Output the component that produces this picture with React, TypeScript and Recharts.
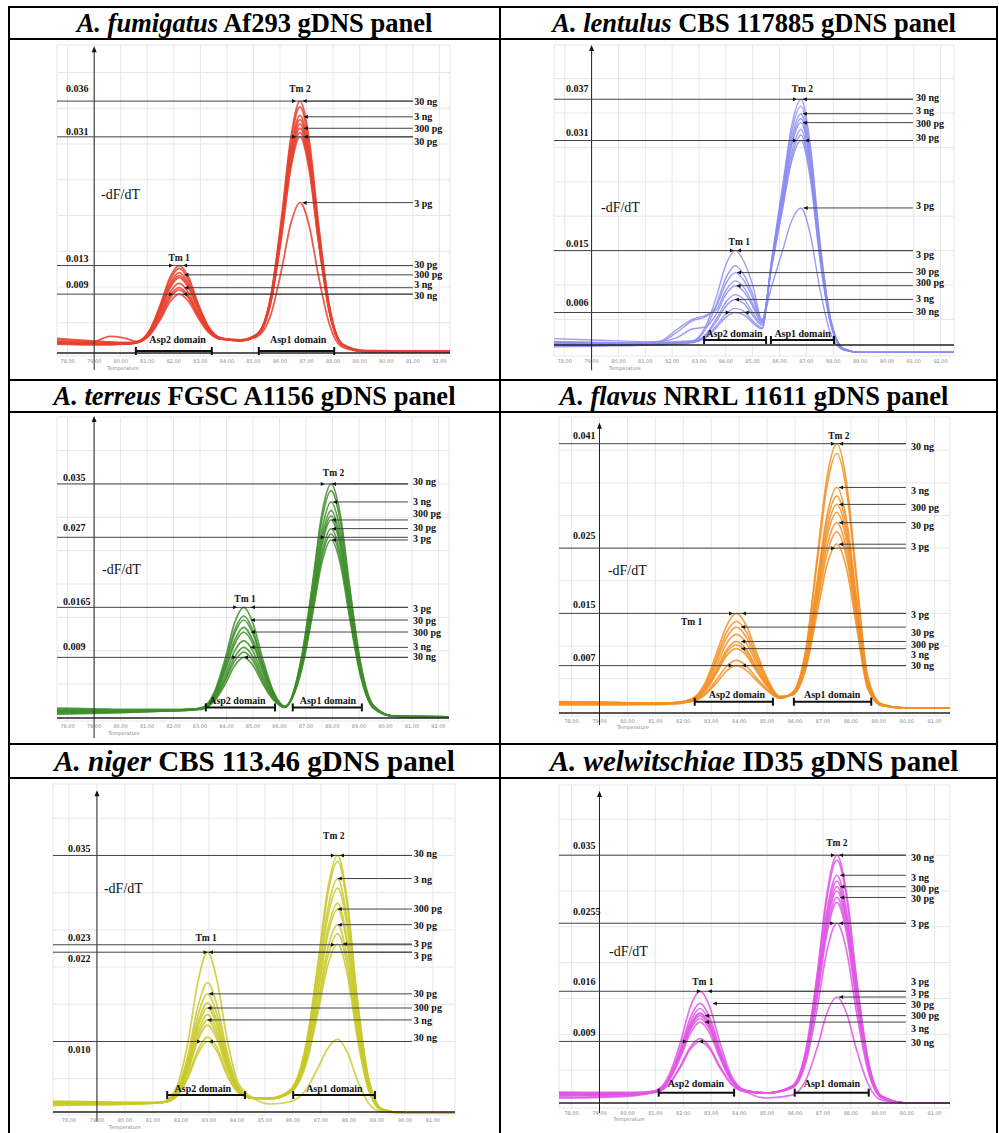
import React from 'react';
import { LineChart, Line, XAxis, YAxis, CartesianGrid, ReferenceLine, ReferenceDot } from 'recharts';

const SERIF = "'Liberation Serif', 'Times New Roman', Times, serif";

// x axis ticks (temperature, °C) and light grid rows (-dF/dT, x1000)
const ticksTo92 = [78, 79, 80, 81, 82, 83, 84, 85, 86, 87, 88, 89, 90, 91, 92];
const ticksTo91 = [78, 79, 80, 81, 82, 83, 84, 85, 86, 87, 88, 89, 90, 91];
const gridValues = [5, 10, 15, 20, 25, 30, 35, 40];
const yAxisAt = 79;

// panel titles
const speciesNames = ['A. fumigatus', 'A. lentulus', 'A. terreus', 'A. flavus', 'A. niger', 'A. welwitschiae'];
const strainNames = ['Af293', 'CBS 117885', 'FGSC A1156', 'NRRL 11611', 'CBS 113.46', 'ID35'];

// ---------- A. fumigatus (values are -dF/dT x 1000)
const fumTemps = [77.6, 78.8, 79.6, 80.1, 80.6, 81.1, 81.5, 81.85, 82.2, 82.55, 82.9, 83.3, 83.8, 84.5, 85.15, 85.65, 86.05, 86.4, 86.75, 87.1, 87.45, 87.85, 88.35, 89.2, 92.4];
const fumCurves = [
  [2.2, 2.1, 2.0, 2.0, 2.2, 3.3, 5.5, 7.9, 9.0, 8.0, 5.8, 3.7, 2.7, 2.5, 3.5, 8.7, 19.5, 30.7, 36.0, 30.5, 18.7, 7.5, 2.0, 1.0, 1.0],
  [2.4, 2.2, 2.1, 2.1, 2.2, 3.4, 5.8, 8.4, 9.6, 8.5, 6.1, 3.8, 2.7, 2.6, 3.4, 8.6, 19.0, 30.1, 35.2, 29.8, 18.3, 7.4, 2.0, 1.1, 1.0],
  [2.0, 1.9, 1.9, 2.0, 2.2, 3.5, 6.0, 8.7, 9.9, 8.7, 6.2, 3.9, 2.7, 2.5, 3.4, 8.4, 18.4, 29.1, 34.0, 28.8, 17.7, 7.1, 2.0, 1.0, 0.9],
  [2.6, 2.4, 2.3, 2.2, 2.3, 3.6, 6.3, 9.2, 10.5, 9.2, 6.5, 4.0, 2.7, 2.6, 3.4, 8.2, 18.1, 28.5, 33.4, 28.3, 17.4, 7.0, 1.9, 1.0, 1.0],
  [2.2, 2.1, 2.0, 2.1, 2.3, 3.7, 6.7, 9.8, 11.3, 9.9, 7.0, 4.1, 2.8, 2.5, 3.4, 8.1, 17.8, 28.0, 32.8, 27.8, 17.1, 6.9, 1.9, 1.0, 1.0],
  [2.8, 2.5, 2.3, 2.2, 2.3, 3.9, 7.1, 10.4, 12.0, 10.5, 7.3, 4.3, 2.8, 2.6, 3.4, 8.0, 17.5, 27.5, 32.2, 27.3, 16.8, 6.8, 1.9, 1.1, 1.0],
  [2.1, 2.0, 2.0, 2.0, 2.3, 4.0, 7.4, 10.9, 12.6, 11.0, 7.6, 4.4, 2.8, 2.5, 3.3, 7.9, 17.2, 27.0, 31.6, 26.8, 16.5, 6.7, 1.9, 1.0, 1.0],
  [2.3, 2.2, 2.1, 2.1, 2.3, 4.0, 7.6, 11.3, 13.0, 11.4, 7.8, 4.5, 2.8, 2.5, 3.3, 7.8, 16.9, 26.5, 31.0, 26.3, 16.2, 6.6, 1.9, 1.0, 1.0],
  [2.2, 2.1, 3.1, 2.9, 2.4, 3.8, 6.9, 10.1, 11.6, 10.2, 7.1, 4.2, 2.8, 2.5, 3.1, 6.1, 12.3, 18.8, 21.8, 18.5, 11.5, 4.9, 1.6, 1.0, 1.0],
];
const fumRefValues = [36, 31, 13, 9];
const fumRefLabels = ['0.036', '0.031', '0.013', '0.009'];
const fumRefLabelValues = [37.8, 31.7, 14.0, 10.4];
const fumRefTips = [86.6, 86.6, 81.97, 81.97];
const fumMarkLabels = ['30 ng', '3 ng', '300 pg', '30 pg', '3 pg', '30 pg', '300 pg', '3 ng', '30 ng'];
const fumMarkValues = [36.0, 33.8, 32.2, 31.0, 21.8, 13.0, 11.7, 9.9, 9.0];
const fumMarkTextValues = [36.0, 33.8, 32.1, 30.4, 21.7, 13.2, 11.8, 10.3, 8.8];
const fumMarkTips = [86.85, 86.9, 86.9, 86.9, 86.85, 82.35, 82.4, 82.4, 82.35];

// ---------- A. lentulus
const lenTemps = [77.6, 79.0, 80.5, 81.5, 82.2, 82.75, 83.25, 83.65, 84.0, 84.35, 84.7, 85.0, 85.35, 85.7, 86.1, 86.45, 86.8, 87.15, 87.5, 87.9, 88.4, 89.0, 92.5];
const lenCurves = [
  [1.0, 1.1, 1.2, 1.3, 1.4, 1.6, 2.3, 3.8, 5.3, 6.0, 5.6, 4.5, 3.6, 13.6, 24.0, 33.1, 37.0, 30.3, 16.6, 5.2, 0.7, 0.2, 0.2],
  [1.4, 1.4, 1.4, 1.5, 1.6, 1.7, 2.5, 4.1, 5.8, 6.6, 6.1, 4.8, 3.8, 13.3, 23.4, 32.2, 36.0, 29.4, 16.1, 5.0, 0.7, 0.2, 0.2],
  [1.5, 1.5, 1.4, 1.5, 1.6, 1.7, 2.7, 4.7, 6.9, 7.9, 7.2, 5.6, 4.1, 13.0, 22.8, 31.3, 34.9, 28.5, 15.6, 4.9, 0.7, 0.2, 0.2],
  [1.2, 1.2, 1.2, 1.3, 1.5, 1.7, 2.8, 5.1, 7.5, 8.6, 7.8, 6.0, 4.3, 12.8, 22.3, 30.6, 34.2, 28.0, 15.3, 4.8, 0.7, 0.2, 0.2],
  [1.6, 1.6, 1.5, 1.7, 2.4, 3.6, 3.9, 5.8, 8.6, 9.9, 8.9, 6.9, 4.5, 13.0, 22.2, 30.2, 33.6, 27.5, 15.0, 4.7, 0.7, 0.2, 0.2],
  [1.8, 1.7, 1.6, 1.8, 3.6, 5.0, 5.6, 6.4, 9.2, 10.6, 9.5, 7.3, 4.6, 12.7, 21.6, 29.2, 32.6, 26.7, 14.6, 4.6, 0.6, 0.2, 0.2],
  [2.2, 2.0, 1.8, 1.7, 3.2, 4.8, 5.4, 6.9, 10.2, 11.8, 10.5, 8.1, 4.8, 12.4, 20.7, 27.9, 31.0, 25.4, 13.9, 4.4, 0.6, 0.2, 0.2],
  [1.3, 1.3, 1.3, 1.4, 1.6, 1.8, 3.6, 7.2, 11.0, 12.8, 11.3, 8.7, 4.9, 12.6, 21.1, 28.5, 31.8, 26.0, 14.2, 4.5, 0.6, 0.2, 0.2],
  [1.7, 1.6, 1.5, 1.6, 1.8, 1.9, 4.0, 8.3, 12.9, 15.0, 13.2, 10.0, 5.0, 9.7, 14.8, 19.3, 21.2, 17.3, 9.5, 3.0, 0.5, 0.2, 0.2],
];
const lenRefValues = [37, 31, 15, 6];
const lenRefLabels = ['0.037', '0.031', '0.015', '0.006'];
const lenRefLabelValues = [38.6, 32.2, 16.1, 7.4];
const lenRefTips = [86.65, 86.65, 84.3, 84.15];
const lenMarkLabels = ['30 ng', '3 ng', '300 pg', '30 pg', '3 pg', '3 pg', '30 pg', '300 pg', '3 ng', '30 ng'];
const lenMarkValues = [37.0, 34.9, 33.6, 31.0, 21.2, 15.0, 11.8, 9.9, 7.9, 6.0];
const lenMarkTextValues = [37.2, 35.3, 33.5, 31.4, 21.5, 14.5, 11.9, 10.3, 8.0, 6.1];
const lenMarkTips = [86.87, 86.87, 86.87, 86.95, 86.9, 84.42, 84.42, 84.4, 84.34, 84.7];

// ---------- A. terreus
const terTemps = [77.6, 79.0, 80.5, 82.0, 82.6, 83.05, 83.55, 83.95, 84.3, 84.65, 85.0, 85.35, 85.75, 86.2, 86.85, 87.25, 87.6, 87.95, 88.3, 88.65, 89.05, 89.55, 90.3, 92.4];
const terCurves = [
  [0.9, 0.9, 0.9, 1.0, 1.1, 1.2, 2.5, 5.0, 7.7, 9.0, 7.8, 5.2, 2.7, 1.6, 9.4, 20.2, 30.5, 35.0, 30.3, 19.6, 8.4, 1.8, 0.2, 0.1],
  [1.2, 1.2, 1.1, 1.1, 1.2, 1.3, 2.6, 5.5, 8.4, 9.8, 8.5, 5.6, 2.9, 1.6, 9.2, 19.7, 29.6, 34.0, 29.3, 19.1, 8.2, 1.7, 0.2, 0.1],
  [0.6, 0.7, 0.8, 1.0, 1.1, 1.3, 2.8, 5.8, 9.0, 10.5, 9.1, 6.0, 3.0, 1.5, 8.8, 18.7, 28.1, 32.3, 27.9, 18.1, 7.8, 1.6, 0.2, 0.1],
  [1.4, 1.3, 1.2, 1.2, 1.2, 1.3, 3.0, 6.3, 9.9, 11.5, 9.9, 6.5, 3.2, 1.5, 8.5, 18.0, 27.0, 31.0, 26.8, 17.4, 7.5, 1.6, 0.2, 0.1],
  [0.8, 0.8, 0.9, 1.0, 1.1, 1.3, 3.2, 7.0, 10.9, 12.8, 11.0, 7.1, 3.4, 1.5, 8.1, 17.2, 25.8, 29.6, 25.6, 16.6, 7.2, 1.5, 0.2, 0.1],
  [1.0, 1.0, 1.0, 1.1, 1.2, 1.4, 3.3, 7.3, 11.5, 13.5, 11.5, 7.5, 3.6, 1.6, 8.3, 17.5, 26.3, 30.2, 26.1, 16.9, 7.3, 1.5, 0.2, 0.1],
  [0.5, 0.6, 0.8, 1.0, 1.2, 1.4, 3.5, 7.9, 12.5, 14.6, 12.5, 8.0, 3.8, 1.6, 7.8, 16.5, 24.7, 28.3, 24.5, 15.9, 6.8, 1.4, 0.2, 0.1],
  [1.1, 1.1, 1.0, 1.1, 1.2, 1.4, 3.6, 8.2, 13.0, 15.2, 13.0, 8.3, 3.9, 1.6, 7.6, 16.0, 24.0, 27.5, 23.8, 15.4, 6.6, 1.4, 0.2, 0.1],
  [0.9, 0.9, 0.9, 1.0, 1.2, 1.4, 3.9, 8.8, 14.1, 16.5, 14.1, 9.0, 4.1, 1.7, 7.4, 15.5, 23.2, 26.6, 23.0, 14.9, 6.4, 1.4, 0.2, 0.1],
];
const terRefValues = [35, 27, 16.5, 9];
const terRefLabels = ['0.035', '0.027', '0.0165', '0.009'];
const terRefLabelValues = [36.0, 28.4, 17.4, 10.6];
const terRefTips = [87.71, 87.71, 84.4, 84.37];
const terMarkLabels = ['30 ng', '3 ng', '300 pg', '30 pg', '3 pg', '3 pg', '30 pg', '300 pg', '3 ng', '30 ng'];
const terMarkValues = [35.0, 32.3, 29.6, 28.3, 26.6, 16.5, 14.6, 12.8, 10.5, 9.0];
const terMarkTextValues = [35.4, 32.3, 30.5, 28.4, 26.8, 16.3, 14.6, 12.8, 10.6, 9.2];
const terMarkTips = [87.98, 88.02, 87.98, 87.98, 87.98, 84.92, 84.92, 84.92, 84.9, 84.66];

// ---------- A. flavus
const flaTemps = [77.55, 79.0, 80.5, 81.6, 82.3, 82.8, 83.2, 83.55, 83.9, 84.25, 84.6, 85.0, 85.45, 85.9, 86.4, 86.8, 87.15, 87.5, 87.85, 88.2, 88.6, 89.1, 90.0, 91.55];
const flaCurves = [
  [1.2, 1.2, 1.1, 1.2, 1.5, 2.6, 4.4, 6.2, 7.0, 6.3, 4.8, 3.2, 2.0, 2.8, 9.8, 23.8, 35.9, 41.0, 34.9, 20.8, 5.4, 1.1, 0.5, 0.5],
  [1.4, 1.4, 1.3, 1.3, 1.5, 2.8, 4.9, 6.9, 7.8, 7.0, 5.2, 3.4, 2.0, 2.8, 9.5, 23.0, 34.6, 39.5, 33.6, 20.0, 5.2, 1.1, 0.5, 0.5],
  [1.0, 1.0, 1.0, 1.1, 1.6, 3.2, 5.9, 8.5, 9.6, 8.6, 6.3, 3.8, 2.1, 2.6, 8.5, 20.1, 30.1, 34.3, 29.2, 17.4, 4.6, 1.0, 0.5, 0.5],
  [1.3, 1.3, 1.2, 1.3, 1.6, 3.4, 6.2, 9.0, 10.2, 9.1, 6.6, 4.0, 2.1, 2.6, 8.2, 19.4, 29.0, 33.0, 28.1, 16.8, 4.4, 1.0, 0.5, 0.5],
  [1.1, 1.1, 1.1, 1.2, 1.7, 3.5, 6.5, 9.4, 10.7, 9.5, 6.9, 4.1, 2.1, 2.6, 7.9, 18.6, 27.8, 31.7, 27.0, 16.1, 4.2, 1.0, 0.5, 0.5],
  [1.5, 1.4, 1.3, 1.3, 1.7, 3.7, 7.1, 10.4, 11.8, 10.5, 7.5, 4.3, 2.2, 2.6, 7.7, 18.0, 26.8, 30.5, 26.0, 15.5, 4.1, 0.9, 0.5, 0.5],
  [1.2, 1.2, 1.2, 1.3, 1.8, 4.0, 7.8, 11.3, 12.9, 11.4, 8.1, 4.6, 2.2, 2.5, 7.4, 17.1, 25.4, 28.9, 24.6, 14.7, 3.9, 0.9, 0.5, 0.5],
  [1.0, 1.0, 1.1, 1.2, 1.8, 4.2, 8.3, 12.1, 13.8, 12.2, 8.6, 4.8, 2.2, 2.5, 7.1, 16.3, 24.2, 27.5, 23.5, 14.0, 3.7, 0.9, 0.5, 0.5],
  [1.3, 1.3, 1.2, 1.3, 1.9, 4.5, 9.0, 13.1, 15.0, 13.2, 9.3, 5.1, 2.3, 2.5, 6.7, 15.2, 22.5, 25.6, 21.8, 13.1, 3.5, 0.9, 0.5, 0.5],
];
const flaRefValues = [41, 25, 15, 7];
const flaRefLabels = ['0.041', '0.025', '0.015', '0.007'];
const flaRefLabelValues = [42.3, 26.9, 16.4, 8.2];
const flaRefTips = [87.43, 87.43, 83.78, 83.77];
const flaMarkLabels = ['30 ng', '3 ng', '300 pg', '30 pg', '3 pg', '3 pg', '30 pg', '300 pg', '3 ng', '30 ng'];
const flaMarkValues = [41.0, 34.3, 31.7, 28.9, 25.6, 15.0, 12.9, 10.7, 9.6, 7.0];
const flaMarkTextValues = [40.6, 33.9, 31.3, 28.5, 25.2, 14.8, 12.0, 10.3, 8.7, 7.0];
const flaMarkTips = [87.58, 87.58, 87.58, 87.58, 87.58, 84.1, 84.07, 84.07, 84.07, 84.1];

// ---------- A. niger
const nigTemps = [77.43, 79.0, 80.5, 81.35, 81.85, 82.25, 82.6, 82.95, 83.3, 83.65, 84.05, 84.55, 85.2, 85.9, 86.5, 86.9, 87.25, 87.6, 87.95, 88.3, 88.7, 89.2, 90.0, 91.79];
const nigCurves = [
  [1.7, 1.7, 1.7, 1.8, 2.6, 5.1, 8.3, 10.0, 8.6, 5.4, 3.1, 2.4, 2.4, 3.5, 10.2, 20.7, 30.6, 35.0, 28.7, 15.8, 5.1, 0.9, 0.4, 0.4],
  [1.9, 1.8, 1.8, 1.8, 2.7, 5.3, 8.8, 10.6, 9.1, 5.7, 3.2, 2.4, 2.4, 3.4, 10.0, 20.2, 29.9, 34.2, 28.0, 15.4, 5.0, 0.9, 0.4, 0.4],
  [1.5, 1.5, 1.6, 1.8, 2.8, 5.9, 10.1, 12.2, 10.2, 6.3, 3.4, 2.4, 2.4, 3.4, 9.5, 18.9, 27.9, 31.9, 26.1, 14.4, 4.7, 0.9, 0.4, 0.4],
  [1.8, 1.8, 1.7, 1.8, 2.9, 6.2, 10.6, 12.9, 10.7, 6.6, 3.4, 2.4, 2.4, 3.3, 9.1, 18.2, 26.8, 30.6, 25.1, 13.8, 4.5, 0.9, 0.4, 0.4],
  [1.6, 1.6, 1.7, 1.8, 3.1, 6.9, 11.9, 14.5, 12.0, 7.2, 3.6, 2.4, 2.3, 3.2, 8.5, 16.6, 24.4, 27.8, 22.8, 12.6, 4.1, 0.8, 0.4, 0.4],
  [2.0, 1.9, 1.8, 1.8, 3.1, 7.2, 12.5, 15.2, 12.6, 7.5, 3.7, 2.4, 2.3, 3.3, 8.7, 17.1, 25.1, 28.6, 23.4, 13.0, 4.2, 0.8, 0.4, 0.4],
  [1.7, 1.7, 1.7, 1.8, 3.3, 7.6, 13.4, 16.4, 13.5, 8.0, 3.8, 2.4, 2.3, 3.2, 8.0, 15.4, 22.6, 25.7, 21.1, 11.7, 3.8, 0.8, 0.4, 0.4],
  [1.4, 1.5, 1.6, 1.8, 3.4, 8.2, 14.6, 17.9, 14.7, 8.6, 4.0, 2.4, 2.3, 3.1, 7.7, 14.8, 21.5, 24.5, 20.1, 11.1, 3.7, 0.8, 0.4, 0.4],
  [1.8, 1.8, 1.8, 1.8, 3.0, 6.5, 11.2, 13.6, 11.3, 6.9, 3.5, 2.4, 2.3, 3.1, 7.3, 14.0, 20.3, 23.1, 18.9, 10.5, 3.5, 0.7, 0.4, 0.4],
  [1.7, 1.7, 1.7, 1.9, 3.9, 9.9, 17.9, 22.0, 18.0, 10.3, 4.4, 2.5, 1.6, 1.9, 3.7, 6.5, 9.1, 10.3, 8.5, 4.8, 1.7, 0.5, 0.4, 0.4],
];
const nigRefValues = [35, 23, 22, 10];
const nigRefLabels = ['0.035', '0.023', '0.022', '0.010'];
const nigRefLabelValues = [36.0, 24.0, 21.2, 8.9];
const nigRefTips = [87.5, 87.5, 82.95, 82.72];
const nigMarkLabels = ['30 ng', '3 ng', '300 pg', '30 pg', '3 pg', '3 pg', '30 pg', '300 pg', '3 ng', '30 ng'];
const nigMarkValues = [35.0, 31.9, 27.8, 25.7, 23.1, 22.0, 16.4, 14.5, 12.9, 10.0];
const nigMarkTextValues = [35.2, 31.8, 27.9, 25.6, 23.2, 21.6, 16.4, 14.6, 12.8, 10.6];
const nigMarkTips = [87.68, 87.6, 87.6, 87.6, 87.79, 83.0, 83.0, 82.95, 82.95, 83.0];

// ---------- A. welwitschiae
const welTemps = [77.55, 79.0, 80.2, 81.0, 81.5, 81.9, 82.25, 82.6, 82.95, 83.3, 83.7, 84.2, 85.0, 85.9, 86.4, 86.8, 87.15, 87.5, 87.85, 88.2, 88.6, 89.1, 90.0, 91.55];
const welCurves = [
  [1.7, 1.7, 1.8, 1.9, 3.1, 5.4, 7.9, 9.0, 7.9, 5.4, 3.1, 2.0, 1.8, 2.8, 8.0, 18.6, 29.8, 35.0, 29.6, 17.9, 6.8, 1.4, 0.4, 0.4],
  [1.4, 1.5, 1.6, 1.9, 3.1, 5.6, 8.2, 9.4, 8.2, 5.6, 3.2, 2.0, 1.8, 2.7, 7.8, 18.2, 29.2, 34.3, 29.0, 17.6, 6.7, 1.4, 0.4, 0.4],
  [1.9, 1.9, 1.9, 2.0, 3.6, 6.8, 10.1, 11.7, 10.1, 6.8, 3.6, 2.1, 1.8, 2.7, 7.5, 17.2, 27.4, 32.2, 27.2, 16.5, 6.3, 1.3, 0.4, 0.4],
  [1.2, 1.3, 1.5, 2.0, 3.7, 7.0, 10.6, 12.2, 10.6, 7.1, 3.7, 2.1, 1.8, 2.7, 7.3, 16.8, 26.8, 31.4, 26.5, 16.1, 6.2, 1.3, 0.4, 0.4],
  [1.6, 1.6, 1.7, 2.0, 3.7, 7.2, 10.9, 12.6, 10.9, 7.3, 3.8, 2.1, 1.8, 2.6, 7.2, 16.4, 26.1, 30.6, 25.9, 15.7, 6.0, 1.3, 0.4, 0.4],
  [1.8, 1.8, 1.8, 2.0, 3.8, 7.4, 11.2, 13.0, 11.2, 7.5, 3.9, 2.1, 1.8, 2.6, 7.0, 16.1, 25.6, 30.0, 25.4, 15.4, 5.9, 1.3, 0.4, 0.4],
  [1.5, 1.5, 1.6, 2.1, 4.0, 8.1, 12.3, 14.3, 12.3, 8.1, 4.1, 2.2, 1.8, 2.6, 6.9, 15.6, 24.8, 29.1, 24.6, 14.9, 5.7, 1.2, 0.4, 0.4],
  [1.7, 1.7, 1.7, 2.0, 3.9, 7.7, 11.7, 13.6, 11.7, 7.8, 4.0, 2.1, 1.8, 2.6, 6.7, 15.3, 24.2, 28.4, 24.0, 14.6, 5.6, 1.2, 0.4, 0.4],
  [1.9, 1.8, 1.8, 2.1, 4.4, 8.9, 13.8, 16.0, 13.8, 9.0, 4.4, 2.2, 1.8, 2.5, 6.2, 13.8, 21.8, 25.5, 21.6, 13.1, 5.1, 1.1, 0.4, 0.4],
  [1.1, 1.2, 1.4, 2.0, 3.8, 7.4, 11.1, 12.9, 11.2, 7.4, 3.9, 2.1, 1.1, 1.5, 3.7, 8.2, 13.0, 15.2, 12.9, 7.9, 3.2, 0.8, 0.4, 0.4],
];
const welRefValues = [35, 25.5, 16, 9];
const welRefLabels = ['0.035', '0.0255', '0.016', '0.009'];
const welRefLabelValues = [36.3, 27.2, 17.4, 10.2];
const welRefTips = [87.43, 87.4, 82.63, 82.13];
const welMarkLabels = ['30 ng', '3 ng', '300 pg', '30 pg', '3 pg', '3 pg', '3 pg', '30 pg', '300 pg', '3 ng', '30 ng'];
const welMarkValues = [35.0, 32.2, 30.6, 29.1, 25.5, 16.0, 15.2, 14.3, 12.6, 11.7, 9.0];
const welMarkTextValues = [34.7, 31.9, 30.4, 28.9, 25.5, 17.3, 15.8, 14.2, 12.6, 10.8, 8.9];
const welMarkTips = [87.58, 87.62, 87.62, 87.62, 87.58, 82.88, 87.58, 83.06, 82.78, 82.78, 82.56];

// ---------- layout of every panel
const panels = [
  {
    box: { left: 10, top: 40, width: 489, height: 339 }, plot: { left: 57, right: 450, top: 45, bottom: 356 },
    zeroPx: 358.5, k: 7.15, xDomain: [77.6, 92.4], xTicks: ticksTo92, color: '#e8412f', width: 1.8,
    temps: fumTemps, curves: fumCurves,
    refValues: fumRefValues, refLabels: fumRefLabels, refLabelValues: fumRefLabelValues, refTips: fumRefTips, refTextT: 77.94,
    markLabels: fumMarkLabels, markValues: fumMarkValues, markTextValues: fumMarkTextValues, markTips: fumMarkTips,
    markTextT: 91.05, lineEndT: 91.0,
    tm1: [82.2, 14.0], tm2: [86.75, 37.7],
    asp2: [80.57, 83.43], asp1: [85.2, 88.04], bracketY: 1.05, domainLabelY: 2.6, domainCenters: [82.14, 86.68],
    axisY: 0.77, arrow: [43.4, -1.6], dfdt: [79.26, 22.9], tempLabel: [80.09, -1.33],
  },
  {
    box: { left: 501, top: 40, width: 495, height: 339 }, plot: { left: 554, right: 954, top: 45, bottom: 356 },
    zeroPx: 353.8, k: 6.88, xDomain: [77.6, 92.5], xTicks: ticksTo92, color: '#8b8cf2', width: 1.4,
    temps: lenTemps, curves: lenCurves,
    refValues: lenRefValues, refLabels: lenRefLabels, refLabelValues: lenRefLabelValues, refTips: lenRefTips, refTextT: 78.05,
    markLabels: lenMarkLabels, markValues: lenMarkValues, markTextValues: lenMarkTextValues, markTips: lenMarkTips,
    markTextT: 91.08, lineEndT: 90.97,
    tm1: [84.5, 16.25], tm2: [86.85, 38.5],
    asp2: [83.19, 85.5], asp1: [85.68, 88.03], bracketY: 2.0, domainLabelY: 2.9, domainCenters: [84.32, 86.86],
    axisY: 1.28, arrow: [44.6, -2.4], dfdt: [79.35, 21.2], tempLabel: [80.24, -2.06],
  },
  {
    box: { left: 10, top: 413, width: 489, height: 330 }, plot: { left: 57, right: 449, top: 417, bottom: 721 },
    zeroPx: 717.4, k: 6.67, xDomain: [77.6, 92.4], xTicks: ticksTo92, color: '#3e8e2b', width: 1.7,
    temps: terTemps, curves: terCurves,
    refValues: terRefValues, refLabels: terRefLabels, refLabelValues: terRefLabelValues, refTips: terRefTips, refTextT: 77.83,
    markLabels: terMarkLabels, markValues: terMarkValues, markTextValues: terMarkTextValues, markTips: terMarkTips,
    markTextT: 91.04, lineEndT: 90.85,
    tm1: [84.7, 17.75], tm2: [88.04, 36.6],
    asp2: [83.22, 85.83], asp1: [86.5, 89.11], bracketY: 1.5, domainLabelY: 2.5, domainCenters: [84.41, 87.83],
    axisY: -0.09, arrow: [44.9, -3.1], dfdt: [79.3, 22.1], tempLabel: [80.13, -2.34],
  },
  {
    box: { left: 501, top: 413, width: 495, height: 330 }, plot: { left: 559, right: 950, top: 417, bottom: 716 },
    zeroPx: 711.3, k: 6.527, xDomain: [77.55, 91.55], xTicks: ticksTo91, color: '#f39126', width: 1.7,
    temps: flaTemps, curves: flaCurves,
    refValues: flaRefValues, refLabels: flaRefLabels, refLabelValues: flaRefLabelValues, refTips: flaRefTips, refTextT: 78.05,
    markLabels: flaMarkLabels, markValues: flaMarkValues, markTextValues: flaMarkTextValues, markTips: flaMarkTips,
    markTextT: 90.15, lineEndT: 89.97,
    tm1: [82.3, 13.7], tm2: [87.57, 42.2],
    asp2: [82.41, 85.21], asp1: [85.96, 88.73], bracketY: 1.47, domainLabelY: 2.6, domainCenters: [83.92, 87.33],
    axisY: -0.26, arrow: [43.9, -2.1], dfdt: [79.3, 21.6], tempLabel: [80.2, -2.4],
  },
  {
    box: { left: 10, top: 779, width: 489, height: 354 }, plot: { left: 53, right: 455, top: 784, bottom: 1115 },
    zeroPx: 1115.9, k: 7.441, xDomain: [77.43, 91.79], xTicks: ticksTo91, color: '#c9c92c', width: 1.7,
    temps: nigTemps, curves: nigCurves,
    refValues: nigRefValues, refLabels: nigRefLabels, refLabelValues: nigRefLabelValues, refTips: nigRefTips, refTextT: 77.97,
    markLabels: nigMarkLabels, markValues: nigMarkValues, markTextValues: nigMarkTextValues, markTips: nigMarkTips,
    markTextT: 90.32, lineEndT: 90.25,
    tm1: [82.9, 23.9], tm2: [87.46, 37.6],
    asp2: [81.51, 84.29], asp1: [86.01, 88.93], bracketY: 2.8, domainLabelY: 3.7, domainCenters: [82.78, 87.48],
    axisY: 0.52, arrow: [43.5, -0.8], dfdt: [79.25, 30.5], tempLabel: [80.0, -1.5],
  },
  {
    box: { left: 501, top: 779, width: 495, height: 354 }, plot: { left: 559, right: 950, top: 785, bottom: 1108 },
    zeroPx: 1105.9, k: 7.163, xDomain: [77.55, 91.55], xTicks: ticksTo91, color: '#e158e6', width: 1.7,
    temps: welTemps, curves: welCurves,
    refValues: welRefValues, refLabels: welRefLabels, refLabelValues: welRefLabelValues, refTips: welRefTips, refTextT: 78.05,
    markLabels: welMarkLabels, markValues: welMarkValues, markTextValues: welMarkTextValues, markTips: welMarkTips,
    markTextT: 90.15, lineEndT: 89.97,
    tm1: [82.7, 17.3], tm2: [87.5, 36.7],
    asp2: [81.12, 83.82], asp1: [85.99, 88.64], bracketY: 1.85, domainLabelY: 3.15, domainCenters: [82.45, 87.32],
    axisY: 0.4, arrow: [43.7, -1.0], dfdt: [79.34, 21.5], tempLabel: [80.06, -1.8],
  },
];

const text = (s: string, size: number, anchor: string, weight = 700, fill = '#111', family = SERIF) => (p: any) => (
  <text x={p.cx} y={p.cy} textAnchor={anchor} dominantBaseline="central" fontSize={size} fontWeight={weight} fontFamily={family} fill={fill}>
    {s}
  </text>
);
const leftHead = (p: any) => <path d={`M${p.cx},${p.cy}L${p.cx + 4},${p.cy - 2}L${p.cx + 4},${p.cy + 2}Z`} fill="#111" />;
const rightHead = (p: any) => <path d={`M${p.cx},${p.cy}L${p.cx - 4},${p.cy - 2}L${p.cx - 4},${p.cy + 2}Z`} fill="#111" />;
const upHead = (p: any) => <path d={`M${p.cx},${p.cy - 2}L${p.cx - 2.5},${p.cy + 4}L${p.cx + 2.5},${p.cy + 4}Z`} fill="#111" />;

const TempTick = (p: any) => (
  <text x={p.x} y={p.y + 7} textAnchor="middle" fontSize={5} fill="#8a8a8a" fontFamily="'DejaVu Sans', sans-serif">
    {Number(p.payload.value).toFixed(2)}
  </text>
);

function MeltPanel({ cfg }: { cfg: any }) {
  const { box, plot } = cfg;
  const data = cfg.temps.map((t: number, i: number) => {
    const row: Record<string, number> = { t };
    cfg.curves.forEach((c: number[], j: number) => { row['c' + j] = c[i]; });
    return row;
  });
  const yMax = (cfg.zeroPx - plot.top) / cfg.k;
  const yMin = (cfg.zeroPx - plot.bottom) / cfg.k;
  const half = 4 / cfg.k;
  const [x0, x1] = cfg.xDomain;
  const seg = (a: number, ya: number, b: number, yb: number) => [{ x: a, y: ya }, { x: b, y: yb }];

  return (
    <div style={{ position: 'absolute', left: box.left, top: box.top }}>
      <LineChart
        width={box.width}
        height={box.height}
        data={data}
        margin={{ left: plot.left - box.left, right: box.left + box.width - plot.right, top: plot.top - box.top, bottom: 0 }}
      >
        <CartesianGrid stroke="#e7e7e7" />
        <XAxis type="number" dataKey="t" domain={cfg.xDomain} allowDataOverflow ticks={cfg.xTicks} interval={0}
          axisLine={false} tickLine={false} tickSize={0} tickMargin={0} height={box.top + box.height - plot.bottom} tick={TempTick} />
        <YAxis hide type="number" domain={[yMin, yMax]} allowDataOverflow ticks={gridValues} />
        {cfg.curves.map((_: number[], j: number) => (
          <Line key={j} dataKey={'c' + j} type="monotone" stroke={cfg.color} strokeWidth={cfg.width} strokeOpacity={0.85}
            dot={false} activeDot={false} isAnimationActive={false} />
        ))}

        {/* axes */}
        <ReferenceLine segment={seg(x0, cfg.axisY, x1, cfg.axisY)} stroke="#222" strokeWidth={1.5} ifOverflow="visible" />
        <ReferenceLine segment={seg(yAxisAt, cfg.arrow[1], yAxisAt, cfg.arrow[0])} stroke="#222" strokeWidth={1} ifOverflow="visible" />
        <ReferenceDot x={yAxisAt} y={cfg.arrow[0]} r={0} ifOverflow="visible" shape={upHead} />
        <ReferenceDot x={cfg.dfdt[0]} y={cfg.dfdt[1]} r={0} ifOverflow="visible" shape={text('-dF/dT', 14, 'start', 400)} />
        <ReferenceDot x={cfg.tempLabel[0]} y={cfg.tempLabel[1]} r={0} ifOverflow="visible"
          shape={text('Temperature', 5, 'middle', 400, '#8a8a8a', "'DejaVu Sans', sans-serif")} />

        {/* reference levels */}
        {cfg.refValues.map((v: number, i: number) => (
          <ReferenceLine key={'rl' + i} segment={seg(x0, v, cfg.lineEndT, v)} stroke="#444" strokeWidth={1} ifOverflow="visible" />
        ))}
        {cfg.refValues.map((v: number, i: number) => (
          <ReferenceDot key={'rt' + i} x={cfg.refTextT} y={cfg.refLabelValues[i]} r={0} ifOverflow="visible" shape={text(cfg.refLabels[i], 10, 'start')} />
        ))}
        {cfg.refValues.map((v: number, i: number) => (
          <ReferenceDot key={'ra' + i} x={cfg.refTips[i]} y={v} r={0} ifOverflow="visible" shape={rightHead} />
        ))}

        {/* concentration marks */}
        {cfg.markValues.map((v: number, i: number) => (
          <ReferenceLine key={'ml' + i} segment={seg(cfg.markTips[i], v, cfg.lineEndT, v)} stroke="#444" strokeWidth={1} ifOverflow="visible" />
        ))}
        {cfg.markValues.map((v: number, i: number) => (
          <ReferenceDot key={'ma' + i} x={cfg.markTips[i]} y={v} r={0} ifOverflow="visible" shape={leftHead} />
        ))}
        {cfg.markLabels.map((s: string, i: number) => (
          <ReferenceDot key={'mt' + i} x={cfg.markTextT} y={cfg.markTextValues[i]} r={0} ifOverflow="visible" shape={text(s, 10, 'start')} />
        ))}

        {/* Tm labels */}
        <ReferenceDot x={cfg.tm1[0]} y={cfg.tm1[1]} r={0} ifOverflow="visible" shape={text('Tm 1', 9.5, 'middle')} />
        <ReferenceDot x={cfg.tm2[0]} y={cfg.tm2[1]} r={0} ifOverflow="visible" shape={text('Tm 2', 9.5, 'middle')} />

        {/* domain brackets */}
        {[cfg.asp2, cfg.asp1].map((d: number[], i: number) => (
          <ReferenceLine key={'bh' + i} segment={seg(d[0], cfg.bracketY, d[1], cfg.bracketY)} stroke="#111" strokeWidth={2} ifOverflow="visible" />
        ))}
        {[cfg.asp2[0], cfg.asp2[1], cfg.asp1[0], cfg.asp1[1]].map((x: number, i: number) => (
          <ReferenceLine key={'bv' + i} segment={seg(x, cfg.bracketY - half, x, cfg.bracketY + half)} stroke="#111" strokeWidth={2} ifOverflow="visible" />
        ))}
        <ReferenceDot x={cfg.domainCenters[0]} y={cfg.domainLabelY} r={0} ifOverflow="visible" shape={text('Asp2 domain', 10, 'middle')} />
        <ReferenceDot x={cfg.domainCenters[1]} y={cfg.domainLabelY} r={0} ifOverflow="visible" shape={text('Asp1 domain', 10, 'middle')} />
      </LineChart>
    </div>
  );
}

const titleRows = [
  { top: 8, height: 30, size: 26.5 },
  { top: 381, height: 30, size: 26.5 },
  { top: 745, height: 32, size: 29 },
];
const titleCols = [
  { left: 10, width: 489 },
  { left: 501, width: 506 },
];

export default function App() {
  const hRules = [6, 38, 379, 411, 743, 777];
  const vRules = [8, 499, 996];
  return (
    <div style={{ position: 'absolute', left: 0, top: 0, width: 999, height: 1133, background: '#fff', overflow: 'hidden' }}>
      {panels.map((cfg, i) => <MeltPanel key={i} cfg={cfg} />)}
      {speciesNames.map((sp, i) => {
        const r = titleRows[Math.floor(i / 2)];
        const c = titleCols[i % 2];
        return (
          <div key={'t' + i} style={{
            position: 'absolute', left: c.left, top: r.top, width: c.width, height: r.height,
            display: 'flex', alignItems: 'center', justifyContent: 'center', whiteSpace: 'nowrap',
            fontFamily: SERIF, fontWeight: 700, fontSize: r.size, lineHeight: 1, color: '#000',
          }}>
            <span><i>{sp}</i> {strainNames[i]} gDNS panel</span>
          </div>
        );
      })}
      {hRules.map((y) => (
        <div key={'h' + y} style={{ position: 'absolute', left: 8, top: y, width: 990, height: 2, background: '#000' }} />
      ))}
      {vRules.map((x) => (
        <div key={'v' + x} style={{ position: 'absolute', left: x, top: 6, width: 2, height: 1127, background: '#000' }} />
      ))}
    </div>
  );
}
